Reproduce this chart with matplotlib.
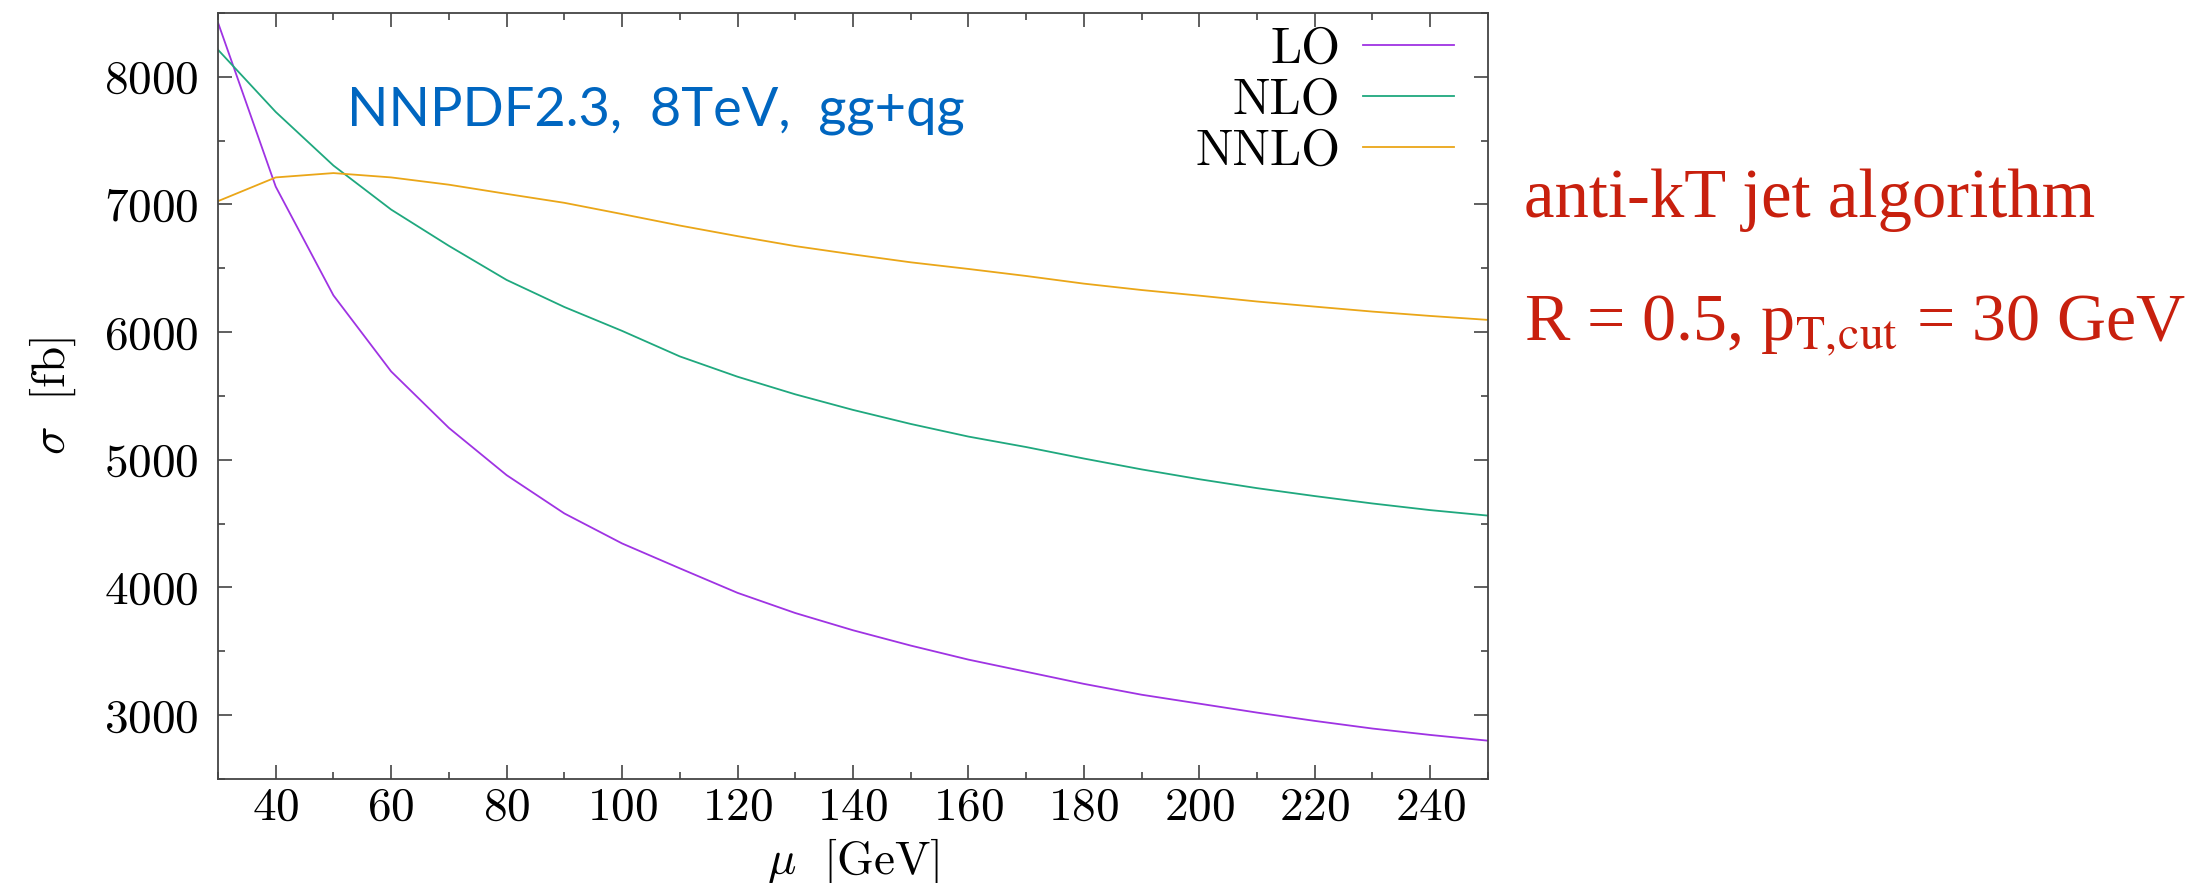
import matplotlib
matplotlib.use("Agg")
import matplotlib.pyplot as plt
from matplotlib.ticker import MultipleLocator

plt.rcParams["font.family"] = "serif"
plt.rcParams["font.serif"] = ["cmr10"]
plt.rcParams["mathtext.fontset"] = "cm"
plt.rcParams["axes.formatter.use_mathtext"] = True

# scale mu [GeV]
mu = [30, 40, 50, 60, 70, 80, 90, 100, 110, 120, 130, 140,
      150, 160, 170, 180, 190, 200, 210, 220, 230, 240, 250]

# cross sections [fb]
sigma_lo = [8425, 7140, 6288, 5692, 5250, 4880, 4580, 4345, 4150, 3958, 3800, 3665,
            3545, 3435, 3340, 3245, 3160, 3090, 3020, 2955, 2895, 2845, 2800]
sigma_nlo = [8212, 7725, 7305, 6960, 6676, 6409, 6197, 6010, 5810, 5651, 5513, 5391,
             5281, 5182, 5100, 5010, 4925, 4848, 4778, 4716, 4658, 4606, 4563]
sigma_nnlo = [7026, 7212, 7246, 7212, 7155, 7083, 7013, 6925, 6835, 6752, 6674, 6609,
              6547, 6495, 6440, 6380, 6330, 6286, 6240, 6200, 6161, 6127, 6096]

labels = ["LO", "NLO", "NNLO"]
colors = ["#9F33E3", "#1FA87E", "#EAA618"]

fig = plt.figure(figsize=(21.93, 8.83), dpi=100)
ax = fig.add_axes([0.0994, 0.1178, 0.5791, 0.8675])

for ys, lab, col in zip([sigma_lo, sigma_nlo, sigma_nnlo], labels, colors):
    ax.plot(mu, ys, color=col, lw=1.3, label=lab)

ax.set_xlim(30, 250)
ax.set_ylim(2500, 8500)
ax.xaxis.set_major_locator(MultipleLocator(20))
ax.xaxis.set_minor_locator(MultipleLocator(10))
ax.yaxis.set_major_locator(MultipleLocator(1000))
ax.yaxis.set_minor_locator(MultipleLocator(500))
ax.tick_params(which="both", direction="in", top=True, right=True,
               colors="#444444", labelcolor="black", labelsize=34, width=1.2)
ax.tick_params(which="major", length=10)
ax.tick_params(which="minor", length=5)
ax.tick_params(axis="y", pad=14)
ax.tick_params(axis="x", pad=6)
for s in ax.spines.values():
    s.set_color("#444444")
    s.set_linewidth(1.3)

ax.set_xlabel(r"$\mu\ \ [\mathrm{GeV}]$", fontsize=34)
ax.set_ylabel(r"$\sigma\ \ [\mathrm{fb}]$", fontsize=34)
ax.xaxis.set_label_coords(0.5, -0.075)
ax.yaxis.set_label_coords(-0.11, 0.5)

ax.legend(loc="upper right", bbox_to_anchor=(0.989, 1.008), frameon=False,
          markerfirst=False, fontsize=36, handlelength=1.82, handletextpad=0.45,
          labelspacing=0.1, borderaxespad=0)

ax.text(0.1016, 0.8525, "NNPDF2.3,  8TeV,  gg+qg", transform=ax.transAxes,
        fontsize=39, family="Lato", color="#0066C0", va="baseline")

red = "#C8200E"
fig.text(0.695, 0.754, "anti-kT jet algorithm", fontsize=49.5,
         family="Liberation Serif", color=red, va="baseline")
fig.text(0.695, 0.615, r"R = 0.5, p$_{\mathrm{T,\!cut}}$ = 30 GeV", fontsize=49,
         family="Liberation Serif", math_fontfamily="stix", color=red, va="baseline")

fig.savefig("out.png", dpi=100)
